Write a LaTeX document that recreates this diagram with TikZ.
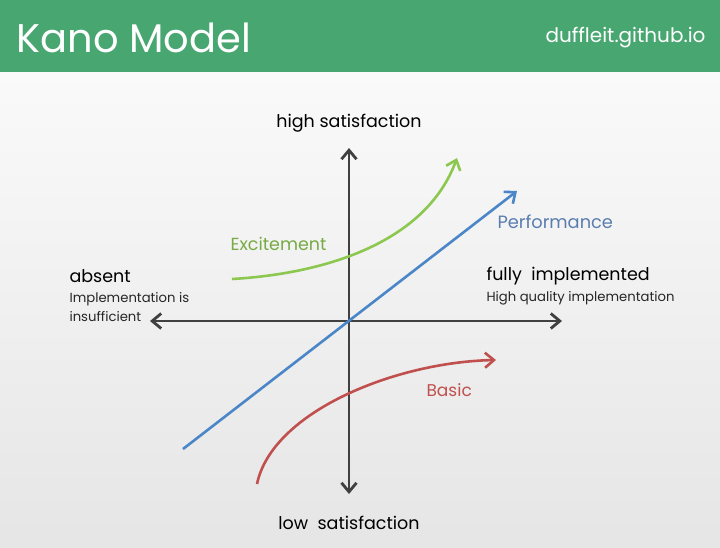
\documentclass[tikz,border=0pt]{standalone}
\usepackage{fontspec}
\setmainfont{Poppins}
\usepackage{xcolor}
\definecolor{kgreen}{RGB}{72,166,112}
\definecolor{kaxis}{RGB}{64,64,64}
\definecolor{kblue}{RGB}{74,134,200}
\definecolor{kbluetxt}{RGB}{90,125,175}
\definecolor{klime}{RGB}{140,200,80}
\definecolor{kred}{RGB}{192,80,77}
\usetikzlibrary{arrows.meta, positioning}

\tikzset{
  kanotip/.style={-{Straight Barb[length=9pt,width=15pt]}},
  twotip/.style={{Straight Barb[length=9pt,width=15pt]}-{Straight Barb[length=9pt,width=15pt]}},
  bigtxt/.style={font=\fontsize{17.5}{20}\selectfont, text=black},
  smalltxt/.style={font=\fontsize{13.2}{19}\selectfont, text=black!85, align=left}
}

\begin{document}
\begin{tikzpicture}[x=1pt, y=-1pt]
  \useasboundingbox (0,0) rectangle (720,547);
  % Background and title bar
  \shade[top color=white!98!black, bottom color=white!90!black] (0,72) rectangle (720,547);
  \fill[kgreen] (0,0) rectangle (720,72);
  \node[font=\fontsize{40}{44}\selectfont, white, anchor=west] (title) at (13,38) {Kano Model};
  \node[font=\fontsize{20}{24}\selectfont, white, anchor=east] (site) at (709,38) {duffleit.github.io};

  % --- Axes ---
  \coordinate (xleft) at (150,321);
  \coordinate (xright) at (562,321);
  \coordinate (ytop) at (349,148);
  \coordinate (ybottom) at (349,494);
  \draw[twotip, kaxis, line width=2.8pt] (xleft) -- (xright);
  \draw[twotip, kaxis, line width=2.8pt] (ybottom) -- (ytop);

  % Axis labels
  \node[bigtxt] (high) at (349,123) {high satisfaction};
  \node[bigtxt] (low) at (349,523) {low\ \ satisfaction};
  \node[bigtxt, anchor=west] (absent) at (66,276) {absent};
  \node[smalltxt, anchor=north west] (absentsub) at (66,289) {Implementation is\\insufficient};
  \node[bigtxt, anchor=west] (full) at (483,276) {fully\ \ implemented};
  \node[smalltxt, anchor=west] (fullsub) at (483,298) {High quality implementation};

  % --- Curves ---
  % Performance
  \coordinate (perfstart) at (183,449);
  \coordinate (perfend) at (517,191);
  \draw[kanotip, kblue, line width=2.6pt] (perfstart) -- (perfend);
  \node[font=\fontsize{17.8}{20}\selectfont, kbluetxt, anchor=west] (perf) at (494,222) {Performance};
  % Excitement
  \coordinate (excstart) at (232,279);
  \coordinate (excend) at (457,158);
  \draw[kanotip, klime, line width=2.6pt] (excstart) .. controls (320,274) and (425,245) .. (excend);
  \node[font=\fontsize{17.5}{20}\selectfont, klime!85!black, anchor=west] (exc) at (227,244) {Excitement};
  % Basic
  \coordinate (basstart) at (257,484);
  \coordinate (basend) at (496,360);
  \draw[kanotip, kred, line width=2.6pt] (basstart) .. controls (272,412) and (395,362) .. (basend);
  \node[font=\fontsize{17}{20}\selectfont, kred, anchor=west] (basic) at (423,390) {Basic};
\end{tikzpicture}
\end{document}
